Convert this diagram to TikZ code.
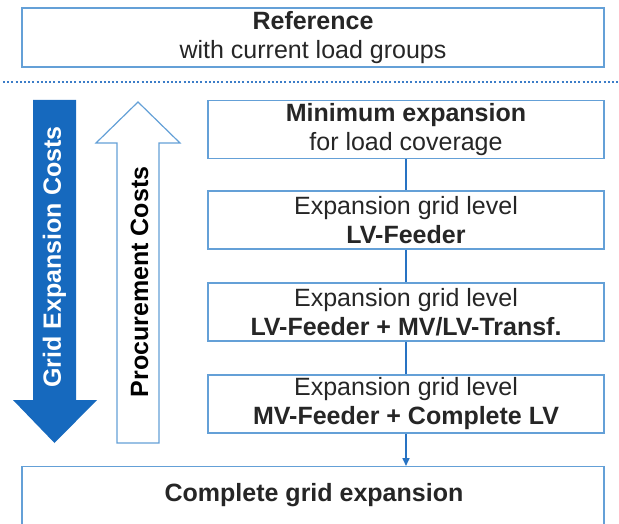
\documentclass[tikz,border=0pt]{standalone}
\usepackage{fontspec}
\setmainfont{Liberation Sans}
\usetikzlibrary{arrows.meta}
\definecolor{boxline}{RGB}{100,160,215}
\definecolor{darkblue}{RGB}{22,105,190}
\definecolor{conn}{RGB}{40,115,195}
\definecolor{dotblue}{RGB}{60,125,200}
\tikzset{
  box/.style={draw=boxline, line width=1.4pt, fill=white, align=center, inner sep=0pt,
    font=\fontsize{25}{29}\selectfont, text=black!85},
  rbox/.style={box, minimum width=396pt, minimum height=58pt},
  conline/.style={draw=conn, line width=1.6pt},
  lbl/.style={inner sep=0pt, font=\fontsize{25}{29}\selectfont\bfseries, rotate=90}
}
\begin{document}
\begin{tikzpicture}[x=1pt,y=-1pt]
\useasboundingbox (0,0) rectangle (619,524);
\clip (0,0) rectangle (619,524);
% top box
\node[box, minimum width=582pt, minimum height=59pt] (ref) at (313,37.5)
  {\textbf{Reference}\\with current load groups};
% dotted separator
\coordinate (d1) at (3,82);
\coordinate (d2) at (619,82);
\draw[dotblue, line width=2pt, dash pattern=on 2pt off 2.2pt] (d1) -- (d2);
% right boxes
\node[rbox] (b1) at (406,129.5) {\textbf{Minimum expansion}\\for load coverage};
\node[rbox] (b2) at (406,220) {Expansion grid level\\\textbf{LV-Feeder}};
\node[rbox] (b3) at (406,312) {Expansion grid level\\\textbf{LV-Feeder + MV/LV-Transf.}};
\node[rbox] (b4) at (406,404) {Expansion grid level\\\textbf{MV-Feeder + Complete LV}};
% bottom box (cut at the picture edge)
\node[box, minimum width=582pt, minimum height=70pt, anchor=north] (cge) at (313,466) {};
\node[inner sep=0pt, font=\fontsize{25}{29}\selectfont\bfseries, text=black!85] (cgetxt) at (314,495) {Complete grid expansion};
% connectors
\draw[conline] (b1.south) -- (b2.north);
\draw[conline] (b2.south) -- (b3.north);
\draw[conline] (b3.south) -- (b4.north);
\draw[conline, -{Triangle[width=7pt,length=8pt]}] (b4.south) -- (b4.south |- cge.north);
% grid expansion costs arrow (down, filled)
\fill[darkblue] (33,100) -- (76,100) -- (76,400) -- (97,400) -- (54.5,443) -- (13,400) -- (33,400) -- cycle;
\node[lbl, text=white] (gec) at (54.5,257) {Grid Expansion Costs};
% procurement costs arrow (up, outlined)
\draw[boxline, line width=1.2pt, fill=white] (117,443) -- (159,443) -- (159,143) -- (180,143) -- (138,102) -- (96,143) -- (117,143) -- cycle;
\node[lbl, text=black] (pc) at (139.5,282) {Procurement Costs};
\end{tikzpicture}
\end{document}
